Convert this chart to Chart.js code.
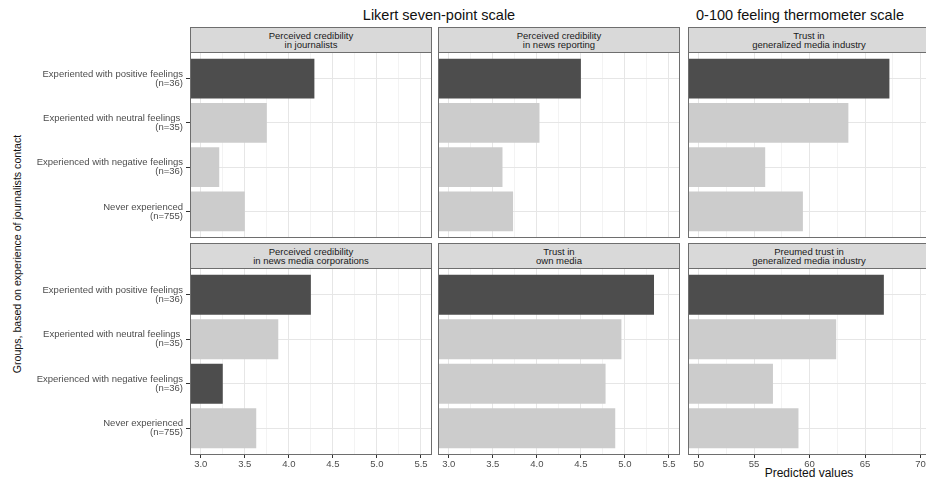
<!DOCTYPE html>
<html>
<head>
<meta charset="utf-8">
<script src="https://cdn.jsdelivr.net/npm/chart.js@4.4.1/dist/chart.umd.min.js"></script>
<style>
  body { margin: 0; width: 926px; height: 480px; overflow: hidden; background: #fff; position: relative;
         font-family: "Liberation Sans", Arial, sans-serif; }
  .abs { position: absolute; }
  .center { transform: translate(-50%, -50%); white-space: nowrap; }
  .strip { position: absolute; box-sizing: border-box; background: #d9d9d9; border: 1px solid #6e6e6e;
           display: flex; align-items: center; justify-content: center; text-align: center;
           font-size: 9.5px; line-height: 9.5px; color: #1a1a1a; }
  canvas { position: absolute; }
</style>
</head>
<body>
<div class="abs center" style="left:439px;top:15px;font-size:14.5px;color:#111">Likert seven-point scale</div>
<div class="abs center" style="left:800px;top:15px;font-size:14.5px;color:#111">0-100 feeling thermometer scale</div>
<div class="abs center" style="left:17px;top:254px;font-size:10.6px;color:#111;transform:translate(-50%,-50%) rotate(-90deg)">Groups, based on experience of journalists contact</div>
<div class="abs center" style="left:809px;top:473px;font-size:12px;color:#111">Predicted values</div>
<script>
const groups = [
  'Experiented with positive feelings\n(n=36)',
  'Experiented with neutral feelings \n(n=35)',
  'Experienced with negative feelings\n(n=36)',
  'Never experienced\n(n=755)'
];
const panelTitles = [
  'Perceived credibility\nin journalists',
  'Perceived credibility\nin news reporting',
  'Trust in\ngeneralized media industry',
  'Perceived credibility\nin news media corporations',
  'Trust in\nown media',
  'Preumed trust in\ngeneralized media industry'
];
const credJournalists  = [4.29, 3.75, 3.21, 3.50];
const credReporting    = [4.50, 4.03, 3.61, 3.73];
const trustIndustry    = [67.2, 63.5, 56.0, 59.4];
const credCorporations = [4.25, 3.88, 3.25, 3.63];
const trustOwnMedia    = [5.33, 4.96, 4.78, 4.89];
const presumedTrust    = [66.7, 62.4, 56.7, 59.0];

// dark bar = highlighted group
const hlJournalists  = [true, false, false, false];
const hlReporting    = [true, false, false, false];
const hlIndustry     = [true, false, false, false];
const hlCorporations = [true, false, true, false];
const hlOwnMedia     = [true, false, false, false];
const hlPresumed     = [true, false, false, false];

const likertTicks = [3.0, 3.5, 4.0, 4.5, 5.0, 5.5];
const thermoTicks = [50, 55, 60, 65, 70];

const panels = [
  { values: credJournalists,  hl: hlJournalists,  kind: 'likert', col: 0, row: 0 },
  { values: credReporting,    hl: hlReporting,    kind: 'likert', col: 1, row: 0 },
  { values: trustIndustry,    hl: hlIndustry,     kind: 'thermo', col: 2, row: 0 },
  { values: credCorporations, hl: hlCorporations, kind: 'likert', col: 0, row: 1 },
  { values: trustOwnMedia,    hl: hlOwnMedia,     kind: 'likert', col: 1, row: 1 },
  { values: presumedTrust,    hl: hlPresumed,     kind: 'thermo', col: 2, row: 1 }
];

const colX = [190, 438, 688];
const panelW = 242;
const rowTop = [52, 268];
const rowH = [186, 187];
const stripH = 25;
const dark = '#4d4d4d', light = '#cccccc';
const fontFam = '"Liberation Sans", Arial, sans-serif';

const scaleInfo = {
  likert: { min: 2.878, max: 5.625, majors: likertTicks, fmt: v => v.toFixed(1) },
  thermo: { min: 49.04, max: 70.86, majors: thermoTicks, fmt: v => String(v) }
};

const borderPlugin = {
  id: 'panelBorder',
  afterDraw(chart) {
    const a = chart.chartArea, c = chart.ctx;
    c.save();
    c.strokeStyle = '#6e6e6e';
    c.lineWidth = 1;
    c.strokeRect(a.left + 0.5, a.top + 0.5, a.right - a.left - 1, a.bottom - a.top - 1);
    c.restore();
  }
};

panels.forEach((p, i) => {
  const info = scaleInfo[p.kind];
  const majors = info.majors;
  const minors = majors.slice(0, -1).map((v, k) => (v + majors[k + 1]) / 2);
  const allTicks = majors.concat(minors).sort((a, b) => a - b);
  const isMajor = v => majors.some(m => Math.abs(m - v) < 1e-9);

  const yW = p.col === 0 ? 180 : 0;
  const xH = p.row === 1 ? 20 : 0;

  // strip header
  const strip = document.createElement('div');
  strip.className = 'strip';
  strip.style.left = colX[p.col] + 'px';
  strip.style.top = (rowTop[p.row] - stripH) + 'px';
  strip.style.width = panelW + 'px';
  strip.style.height = (stripH + 1) + 'px';
  strip.innerHTML = panelTitles[i].replace('\n', '<br>');
  document.body.appendChild(strip);

  const cv = document.createElement('canvas');
  cv.width = yW + panelW;
  cv.height = rowH[p.row] + xH;
  cv.style.left = (colX[p.col] - yW) + 'px';
  cv.style.top = rowTop[p.row] + 'px';
  document.body.appendChild(cv);

  new Chart(cv, {
    type: 'bar',
    data: {
      datasets: [{
        data: p.values.map((v, k) => ({ x: v, y: k })),
        backgroundColor: p.hl.map(h => h ? dark : light),
        borderWidth: 0,
        barPercentage: 0.9,
        categoryPercentage: 1
      }]
    },
    options: {
      indexAxis: 'y',
      responsive: false,
      animation: false,
      layout: { padding: 0 },
      plugins: { legend: { display: false }, tooltip: { enabled: false } },
      scales: {
        x: {
          type: 'linear',
          min: info.min,
          max: info.max,
          afterBuildTicks: s => { s.ticks = allTicks.map(v => ({ value: v })); },
          afterFit: s => { s.height = xH; s.paddingLeft = 0; s.paddingRight = 0; },
          border: { display: false },
          grid: {
            color: ctx => isMajor(ctx.tick.value) ? '#e6e6e6' : '#f3f3f3',
            drawTicks: p.row === 1,
            tickLength: 3,
            tickColor: ctx => isMajor(ctx.tick.value) ? '#333333' : 'rgba(0,0,0,0)'
          },
          ticks: {
            display: p.row === 1,
            autoSkip: false,
            maxRotation: 0,
            padding: 1,
            color: '#4d4d4d',
            font: { family: fontFam, size: 9.5 },
            callback: v => isMajor(v) ? info.fmt(v) : ''
          }
        },
        y: {
          type: 'linear',
          reverse: true,
          min: -0.6,
          max: 3.6,
          offset: false,
          afterBuildTicks: s => { s.ticks = groups.map((g, k) => ({ value: k })); },
          afterFit: s => { s.width = yW; s.paddingTop = 0; s.paddingBottom = 0; },
          border: { display: false },
          grid: {
            color: '#e6e6e6',
            offset: false,
            drawTicks: p.col === 0,
            tickLength: 4,
            tickColor: '#333333'
          },
          ticks: {
            display: p.col === 0,
            autoSkip: false,
            padding: 3,
            color: '#4d4d4d',
            font: { family: fontFam, size: 9.5, lineHeight: 0.95 },
            callback: v => groups[v] !== undefined ? groups[v].split('\n') : ''
          }
        }
      }
    },
    plugins: [borderPlugin]
  });
});
</script>
</body>
</html>
